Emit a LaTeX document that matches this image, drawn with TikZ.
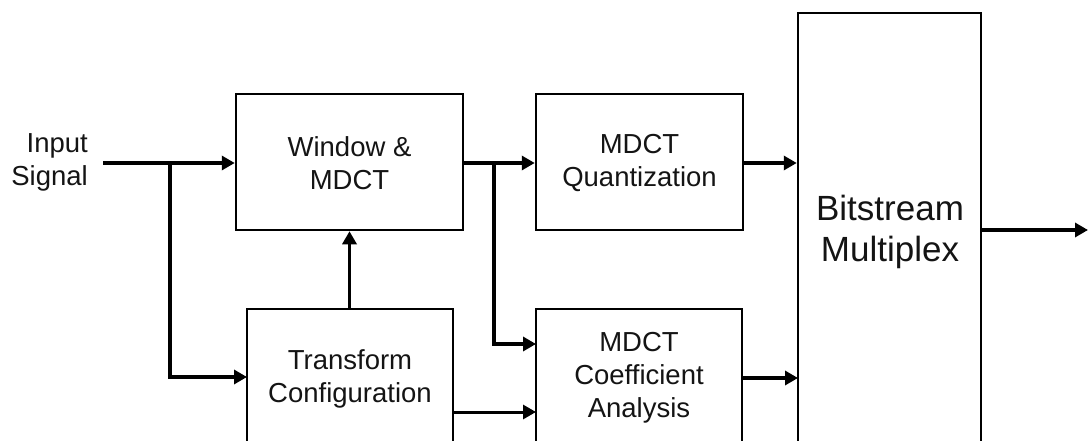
\documentclass[tikz,border=0pt]{standalone}
\usepackage{fontspec}
\setmainfont{Liberation Sans}
\usetikzlibrary{arrows.meta}
\begin{document}
\begin{tikzpicture}[x=1pt,y=-1pt,
 box/.style={draw,line width=2.5pt,inner sep=0pt},
 lbl/.style={font=\fontsize{27.5}{33}\selectfont,align=center,text=black!92,inner sep=0pt},
 big/.style={font=\fontsize{35}{41}\selectfont,align=center,text=black!92,inner sep=0pt},
 conn/.style={line width=3.6pt,-{Triangle[length=13pt,width=14pt]}},
 wire/.style={line width=3.6pt}]
\useasboundingbox (0,0) rectangle (1088,441);
\clip (0,0) rectangle (1088,441);
% boxes
\node[box,minimum width=227pt,minimum height=136pt] (win) at (349.5,162) {};
\node[box,minimum width=207pt,minimum height=136pt] (quant) at (639.5,162) {};
\node[box,minimum width=206pt,minimum height=180pt] (trans) at (350,399) {};
\node[box,minimum width=206pt,minimum height=180pt] (coef) at (639,399) {};
\node[box,minimum width=183pt,minimum height=480pt] (bit) at (889.5,253) {};
% texts
\node[lbl,anchor=east,align=right] (inlbl) at (88,162) {Input\\Signal};
\node[lbl] (wintxt) at (349.5,163) {Window \&\\MDCT};
\node[lbl] (quanttxt) at (639.5,163) {MDCT\\Quantization};
\node[lbl] (transtxt) at (350,379) {Transform\\Configuration};
\node[lbl] (coeftxt) at (639,378) {MDCT\\Coefficient\\Analysis};
\node[big] (bittxt) at (890,232) {Bitstream\\Multiplex};
% coordinates
\coordinate (in) at (103,163);
\coordinate (j1) at (170,163);
\coordinate (t1) at (247,377);
\coordinate (j2) at (494,163);
\coordinate (c1) at (536,344);
\coordinate (c2) at (536,412);
\coordinate (b1) at (798,378);
\coordinate (out) at (1088,230);
% connectors
\draw[conn] (in) -- (in -| win.west);
\draw[conn] (j1) |- (t1);
\draw[conn] (trans.north -| win.south) -- (win.south);
\draw[conn] (win.east |- j2) -- (j2 -| quant.west);
\draw[conn] (j2) |- (c1);
\draw[conn,line width=3pt] (c2 -| trans.east) -- (c2);
\draw[conn] (quant.east |- j2) -- (j2 -| bit.west);
\draw[conn] (b1 -| coef.east) -- (b1);
\draw[conn] (bit.east |- out) -- (out);
\end{tikzpicture}
\end{document}
